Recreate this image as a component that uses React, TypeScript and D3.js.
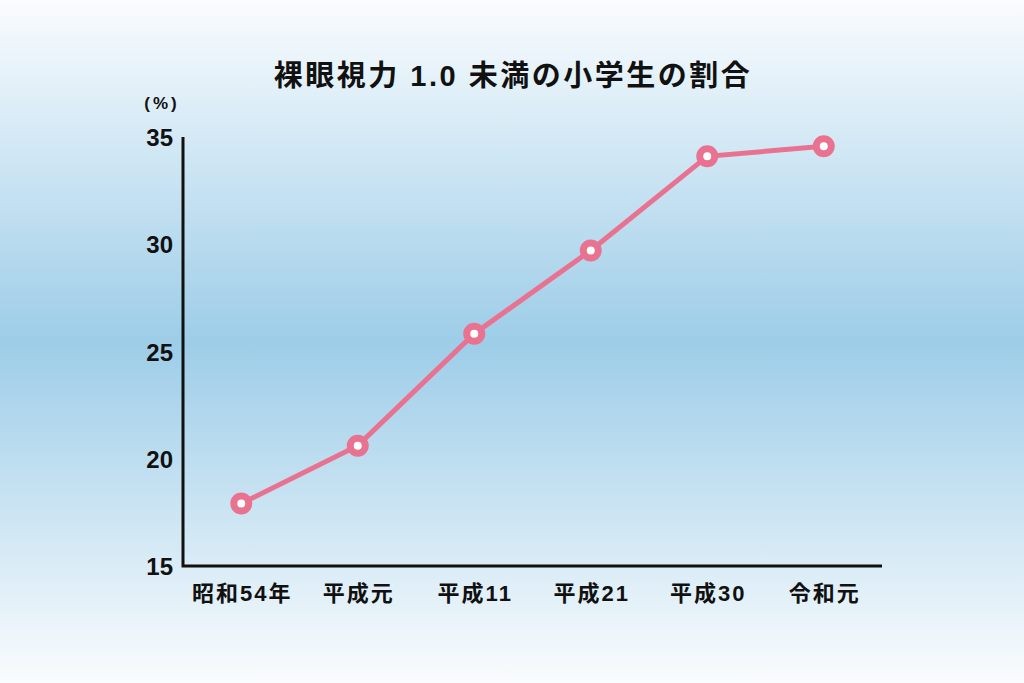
import React from "react";
import * as d3 from "d3";

const categories = ["昭和54年", "平成元", "平成11", "平成21", "平成30", "令和元"];
const values = [17.91, 20.61, 25.83, 29.71, 34.1, 34.57];
const yTicks = [15, 20, 25, 30, 35];
const title = "裸眼視力 1.0 未満の小学生の割合";
const unitLabel = "(%)";

const W = 1024;
const H = 683;
const left = 183;
const right = 882;
const top = 137;
const bottom = 566;

const font = "'Liberation Sans', 'Noto Sans CJK JP', sans-serif";

export default function App() {
  const x = d3.scaleBand<string>().domain(categories).range([left, right]).padding(0);
  const y = d3.scaleLinear().domain([15, 35]).range([bottom, top]);
  const cx = (c: string) => (x(c) as number) + x.bandwidth() / 2;
  const line = d3
    .line<number>()
    .x((_, i) => cx(categories[i]))
    .y((d) => y(d));

  return (
    <svg
      width={W}
      height={H}
      style={{ position: "absolute", left: 0, top: 0, display: "block" }}
    >
      <defs>
        <linearGradient id="bg" x1="0" y1="0" x2="0" y2="1">
          <stop offset="0" stopColor="#fafcfe" />
          <stop offset="0.5" stopColor="#9dcde8" />
          <stop offset="1" stopColor="#fafcfe" />
        </linearGradient>
      </defs>
      <rect x={0} y={0} width={W} height={H} fill="url(#bg)" />
      <text
        x={513}
        y={86}
        textAnchor="middle"
        fontFamily={font}
        fontWeight="bold"
        fontSize={29}
        letterSpacing={2.5}
        fill="#111"
      >
        {title}
      </text>
      <text
        x={162}
        y={109}
        textAnchor="middle"
        fontFamily={font}
        fontSize={17}
        letterSpacing={3}
        fontWeight="bold"
        fill="#111"
      >
        {unitLabel}
      </text>
      {yTicks.map((t) => (
        <text
          key={t}
          x={173}
          y={y(t) + 9}
          textAnchor="end"
          fontFamily={font}
          fontWeight="bold"
          fontSize={24}
          fill="#111"
        >
          {t}
        </text>
      ))}
      <path
        d={`M${left},${top}V${bottom}H${right}`}
        fill="none"
        stroke="#111"
        strokeWidth={3}
      />
      {categories.map((c) => (
        <text
          key={c}
          x={cx(c) + 1}
          y={601}
          textAnchor="middle"
          fontFamily={font}
          fontWeight="bold"
          fontSize={22}
          letterSpacing={2}
          fill="#111"
        >
          {c}
        </text>
      ))}
      <path d={line(values) || ""} fill="none" stroke="#e97291" strokeWidth={5} />
      {values.map((v, i) => (
        <circle
          key={i}
          cx={cx(categories[i])}
          cy={y(v)}
          r={7.5}
          fill="#fff"
          stroke="#e97291"
          strokeWidth={7}
        />
      ))}
    </svg>
  );
}
